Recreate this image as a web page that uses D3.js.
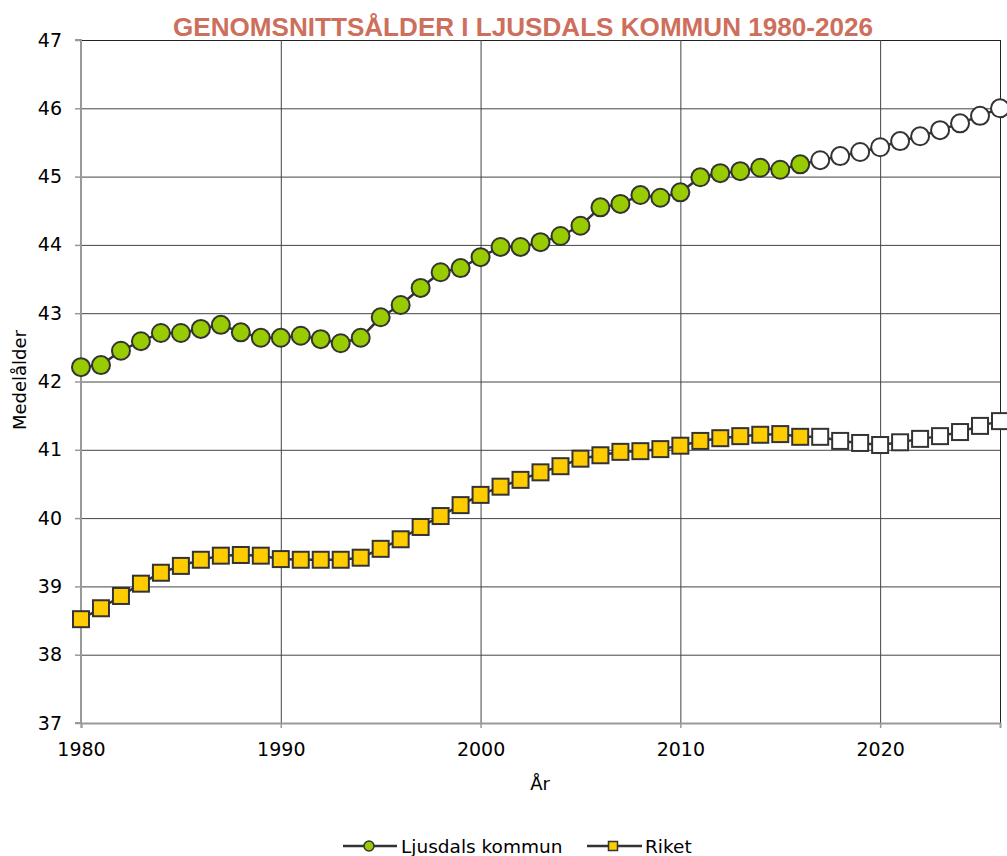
<!DOCTYPE html>
<html><head><meta charset="utf-8">
<script src="https://cdn.jsdelivr.net/npm/d3@7"></script>
<style>body{margin:0;background:#fff}svg{display:block}</style>
</head><body>
<svg id="c" width="1007" height="856"></svg>
<script>
const years = d3.range(1980, 2027);
const ljusdal = [42.21,42.24,42.45,42.59,42.71,42.71,42.77,42.83,42.72,42.64,
  42.64,42.67,42.62,42.56,42.64,42.94,43.12,43.37,43.60,43.66,
  43.82,43.97,43.97,44.04,44.13,44.28,44.55,44.60,44.73,44.69,
  44.77,44.99,45.05,45.08,45.13,45.10,45.18,
  45.24,45.30,45.36,45.43,45.52,45.59,45.68,45.78,45.89,46.00];
const riket = [38.52,38.68,38.86,39.04,39.20,39.30,39.39,39.45,39.46,39.45,
  39.40,39.39,39.39,39.39,39.42,39.55,39.69,39.87,40.03,40.19,
  40.34,40.46,40.56,40.67,40.76,40.87,40.92,40.97,40.98,41.01,
  41.06,41.13,41.17,41.20,41.22,41.23,41.19,
  41.19,41.13,41.10,41.07,41.11,41.16,41.20,41.26,41.35,41.42];
const lastActualYear = 2016;
const xTicks = [1980,1990,2000,2010,2020];
const yTicks = [37,38,39,40,41,42,43,44,45,46,47];
const seriesNames = ["Ljusdals kommun","Riket"];
const title = "GENOMSNITTSÅLDER I LJUSDALS KOMMUN 1980-2026";

const svg = d3.select("#c");
const L=81, R=1000, T=40, B=723;
const x = d3.scaleLinear().domain([1980,2026]).range([L,R]);
const y = d3.scaleLinear().domain([37,47]).range([B,T]);
const font = "DejaVu Sans, Verdana, sans-serif";

// grid
svg.append("g").selectAll("line").data(yTicks.filter(d=>d>37)).join("line")
  .attr("x1",L).attr("x2",R).attr("y1",d=>y(d)+0.5).attr("y2",d=>y(d)+0.5)
  .attr("stroke",d=>d===47?"#222":"#444").attr("stroke-width",1);
svg.append("g").selectAll("line").data(xTicks.filter(d=>d>1980)).join("line")
  .attr("y1",T).attr("y2",B).attr("x1",d=>x(d)+0.5).attr("x2",d=>x(d)+0.5)
  .attr("stroke","#444").attr("stroke-width",1);
svg.append("line").attr("x1",R+0.5).attr("x2",R+0.5).attr("y1",T).attr("y2",B)
  .attr("stroke","#222");

// axes
const yAxis = d3.axisLeft(y).tickValues(yTicks).tickSize(6).tickPadding(13).tickFormat(d3.format("d"));
const gy = svg.append("g").attr("transform",`translate(${L},0)`).call(yAxis);
const xAxis = d3.axisBottom(x).tickValues(xTicks).tickSize(5).tickPadding(15).tickFormat(d3.format("d"));
const gx = svg.append("g").attr("transform",`translate(0,${B})`).call(xAxis);
[gx,gy].forEach(g=>{
  g.select(".domain").attr("stroke","#999").attr("stroke-width",2);
  g.selectAll(".tick line").attr("stroke","#999").attr("stroke-width",1.5);
  g.selectAll("text").attr("fill","#000").style("font-family",font).style("font-size","19px");
});
gy.select(".domain").attr("d",`M-6,${B}H0V${T}H-6`);

// title
svg.append("text").attr("x",523).attr("y",36).attr("text-anchor","middle")
  .attr("fill","#cd6f5c").style("font-family","Liberation Sans Narrow, Arial Narrow, sans-serif")
  .style("font-weight","bold")
  .style("font-size","26px").attr("textLength",700).attr("lengthAdjust","spacingAndGlyphs")
  .text(title);

// axis titles
svg.append("text").attr("x",540).attr("y",790).attr("text-anchor","middle")
  .style("font-family",font).style("font-size","18px").text("År");
svg.append("text").attr("transform","translate(26,380) rotate(-90)").attr("text-anchor","middle")
  .style("font-family",font).style("font-size","18px").text("Medelålder");

// lines
const line = d3.line().x((d,i)=>x(years[i])).y(d=>y(d));
[ljusdal, riket].forEach(s=>{
  svg.append("path").attr("d",line(s)).attr("fill","none").attr("stroke","#333").attr("stroke-width",2.5);
});
// markers
svg.append("g").selectAll("circle").data(ljusdal).join("circle")
  .attr("cx",(d,i)=>x(years[i])).attr("cy",d=>y(d)).attr("r",9)
  .attr("fill",(d,i)=>years[i]<=lastActualYear?"#99cc00":"#fff")
  .attr("stroke","#333").attr("stroke-width",2);
const s=16;
svg.append("g").selectAll("rect").data(riket).join("rect")
  .attr("x",(d,i)=>x(years[i])-s/2).attr("y",d=>y(d)-s/2).attr("width",s).attr("height",s)
  .attr("fill",(d,i)=>years[i]<=lastActualYear?"#ffcc00":"#fff")
  .attr("stroke","#333").attr("stroke-width",2);

// legend
const lg = svg.append("g");
const ly = 846;
lg.append("line").attr("x1",343).attr("x2",397).attr("y1",ly).attr("y2",ly).attr("stroke","#333").attr("stroke-width",2.5);
lg.append("circle").attr("cx",369).attr("cy",ly).attr("r",5).attr("fill","#99cc00").attr("stroke","#333").attr("stroke-width",1.5);
lg.append("text").attr("x",401).attr("y",ly+7).style("font-family",font).style("font-size","18.5px").text(seriesNames[0]);
lg.append("line").attr("x1",587).attr("x2",642).attr("y1",ly).attr("y2",ly).attr("stroke","#333").attr("stroke-width",2.5);
lg.append("rect").attr("x",608.5).attr("y",ly-4.5).attr("width",9).attr("height",9).attr("fill","#ffcc00").attr("stroke","#333").attr("stroke-width",1.5);
lg.append("text").attr("x",645).attr("y",ly+7).style("font-family",font).style("font-size","18.5px").text(seriesNames[1]);
</script>
</body></html>
